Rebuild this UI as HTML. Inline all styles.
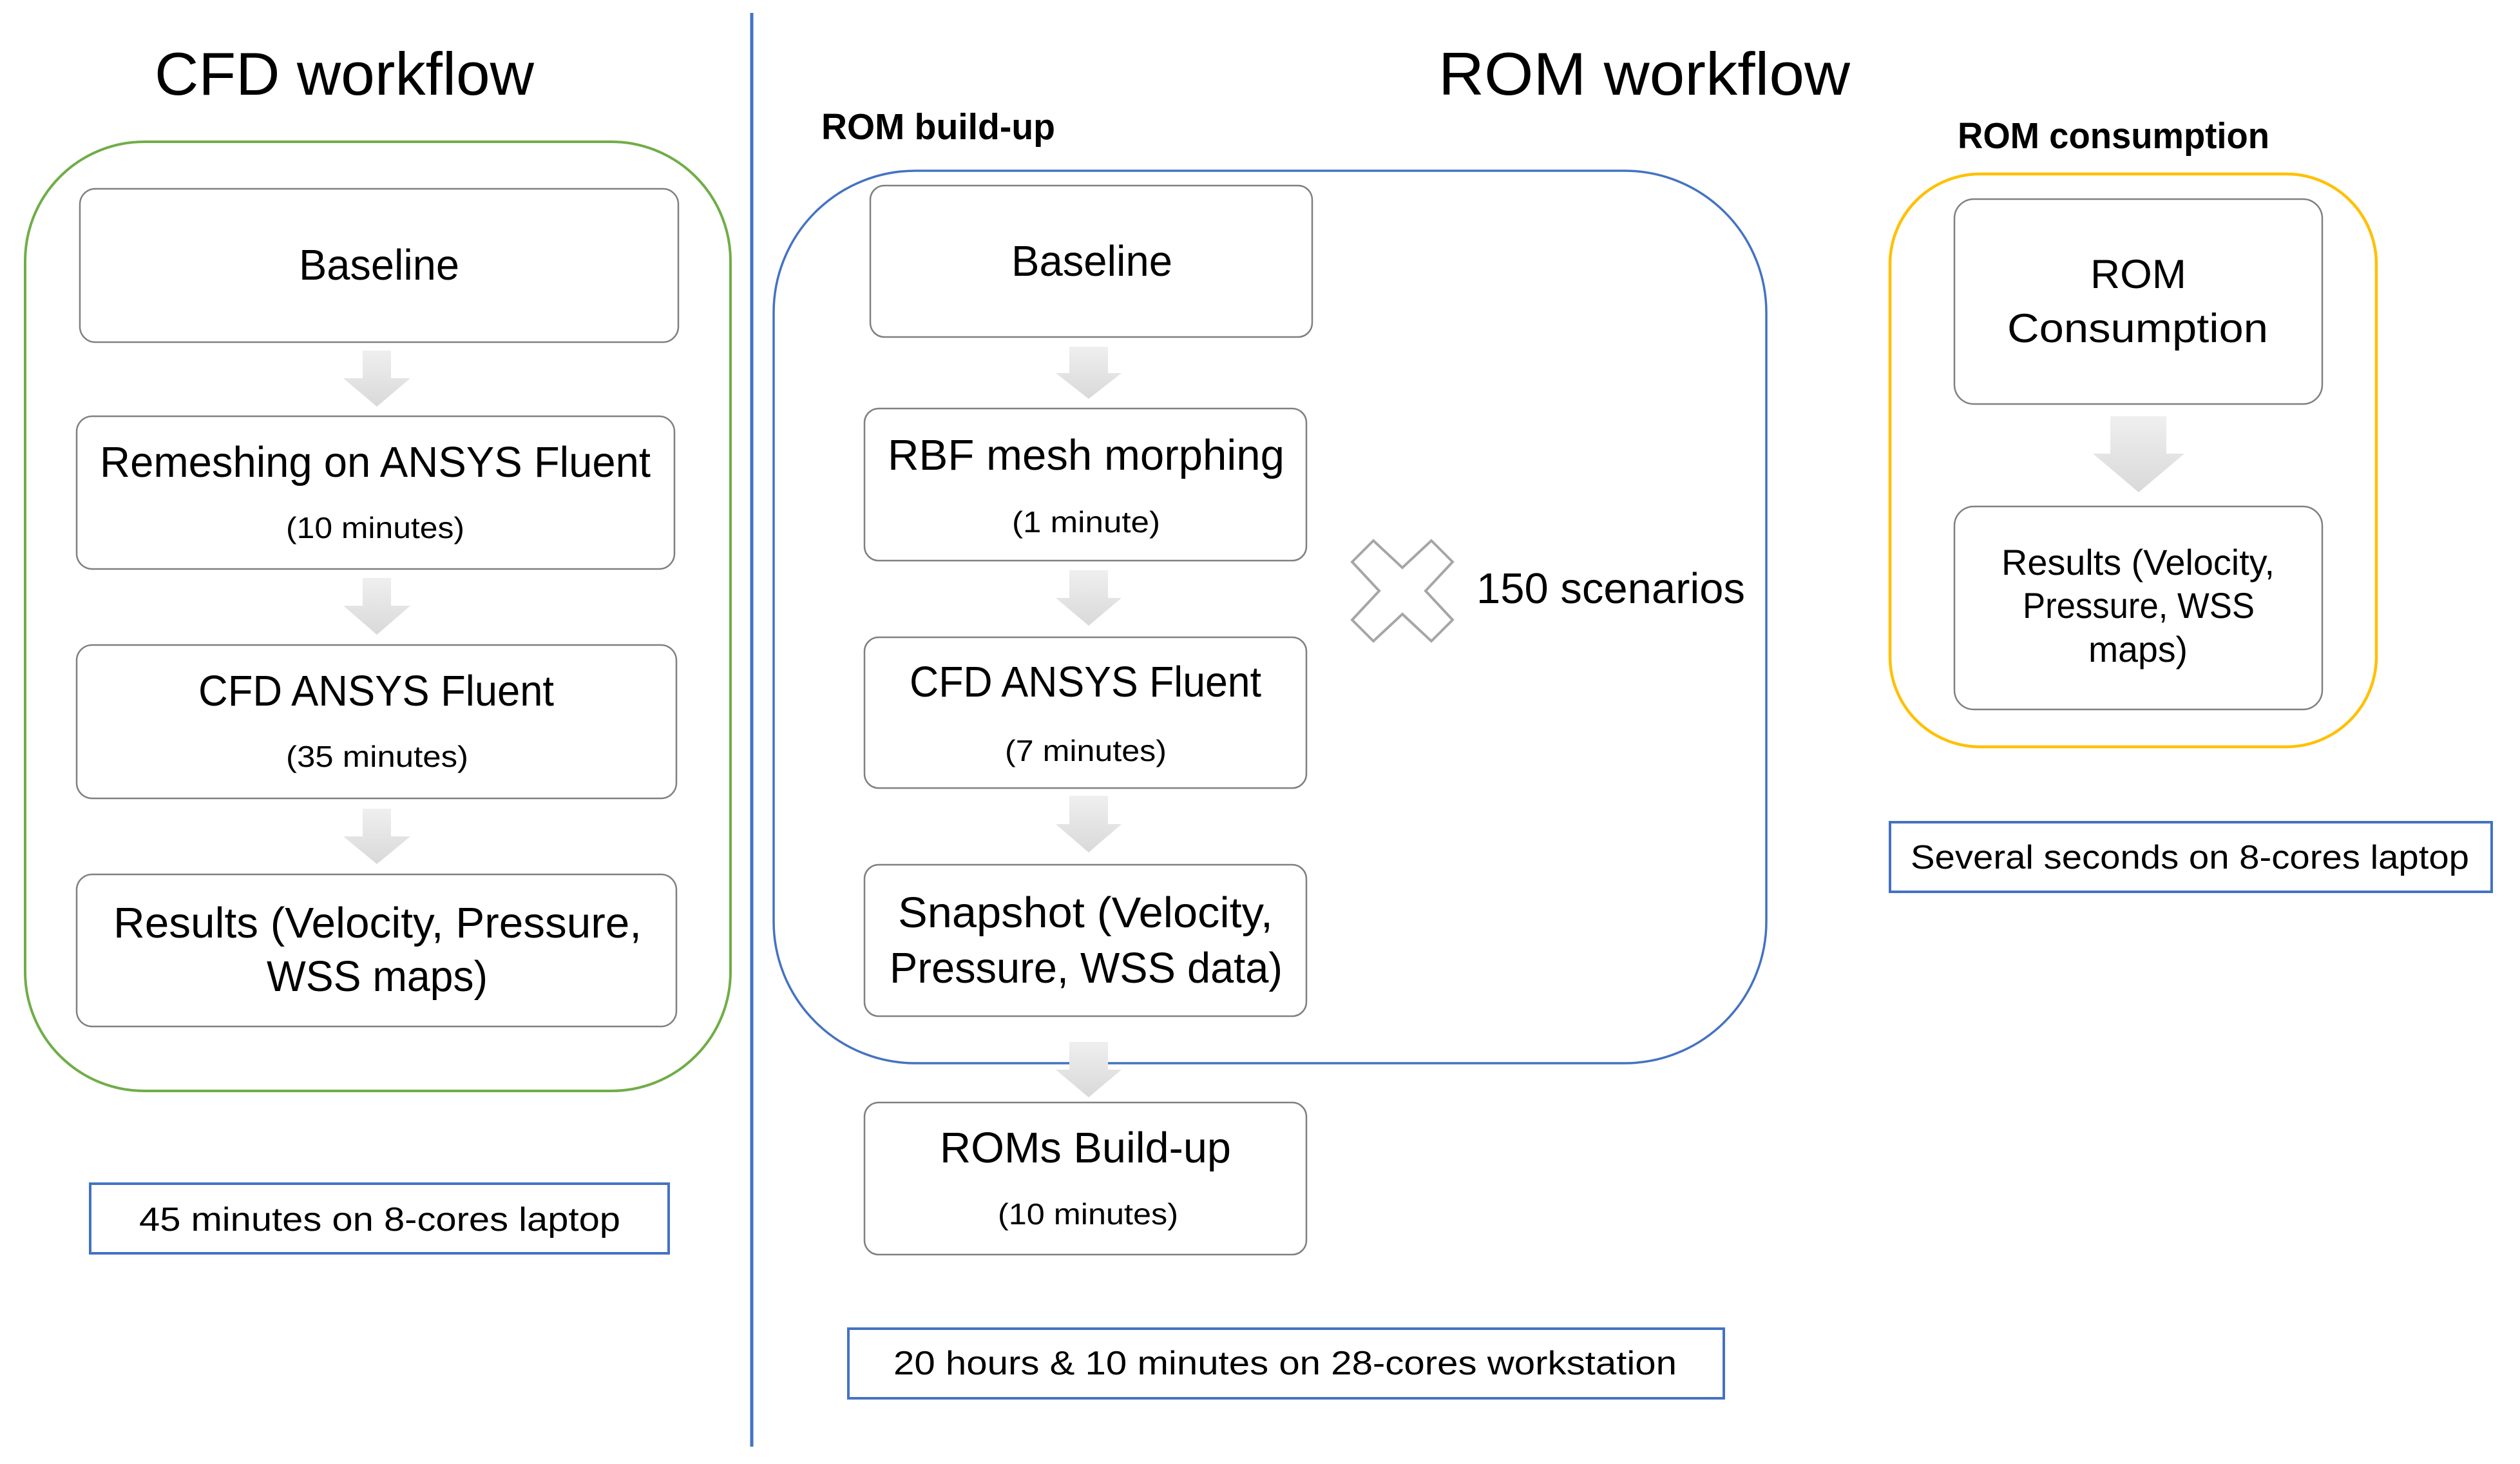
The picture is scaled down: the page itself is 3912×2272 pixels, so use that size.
<!DOCTYPE html>
<html><head><meta charset="utf-8"><style>
html,body{margin:0;padding:0;background:#fff;}
svg{display:block;}
text{font-family:"Liberation Sans",sans-serif;fill:#000;}
</style></head><body>
<svg width="3912" height="2272" viewBox="0 0 3912 2272" xmlns="http://www.w3.org/2000/svg">
<defs>
<linearGradient id="ag" x1="0" y1="0" x2="0" y2="1"><stop offset="0" stop-color="#efefef"/><stop offset="1" stop-color="#d9d9d9"/></linearGradient>
</defs>
<rect width="3912" height="2272" fill="#fff"/>
<line x1="1167" y1="20" x2="1167" y2="2245" stroke="#4472C4" stroke-width="5"/>
<text x="240" y="147" font-size="94" textLength="589" lengthAdjust="spacingAndGlyphs">CFD workflow</text>
<text x="2233" y="147" font-size="94" textLength="639" lengthAdjust="spacingAndGlyphs">ROM workflow</text>
<text x="1275" y="216" font-size="57" font-weight="bold" textLength="363" lengthAdjust="spacingAndGlyphs">ROM build-up</text>
<text x="3039" y="230" font-size="57" font-weight="bold" textLength="484" lengthAdjust="spacingAndGlyphs">ROM consumption</text>

<rect x="39" y="220" width="1095" height="1473" rx="185" ry="185" fill="none" stroke="#70AD47" stroke-width="4"/>
<g fill="#fff" stroke="#808080" stroke-width="2.5">
<rect x="124" y="293" width="929" height="238" rx="24"/>
<rect x="119" y="646" width="928" height="237" rx="24"/>
<rect x="119" y="1001" width="931" height="238" rx="24"/>
<rect x="119" y="1357" width="931" height="236" rx="24"/>
</g>
<g fill="url(#ag)">
<polygon points="563,544 607,544 607,587 637,587 585,631 533,587 563,587"/>
<polygon points="563,897 607,897 607,940 637,940 585,985 533,940 563,940"/>
<polygon points="563,1255 607,1255 607,1298 637,1298 585,1341 533,1298 563,1298"/>
</g>
<text x="464" y="434" font-size="67" textLength="249" lengthAdjust="spacingAndGlyphs">Baseline</text>
<text x="155" y="740" font-size="67" textLength="855" lengthAdjust="spacingAndGlyphs">Remeshing on ANSYS Fluent</text>
<text x="444" y="835" font-size="46" textLength="277" lengthAdjust="spacingAndGlyphs">(10 minutes)</text>
<text x="308" y="1095" font-size="67" textLength="552" lengthAdjust="spacingAndGlyphs">CFD ANSYS Fluent</text>
<text x="444" y="1190" font-size="46" textLength="283" lengthAdjust="spacingAndGlyphs">(35 minutes)</text>
<text x="176" y="1455" font-size="67" textLength="820" lengthAdjust="spacingAndGlyphs">Results (Velocity, Pressure,</text>
<text x="414" y="1538" font-size="67" textLength="343" lengthAdjust="spacingAndGlyphs">WSS maps)</text>
<rect x="140" y="1837" width="898" height="108" fill="none" stroke="#4472C4" stroke-width="4"/>
<text x="216" y="1910" font-size="52" textLength="747" lengthAdjust="spacingAndGlyphs">45 minutes on 8-cores laptop</text>

<rect x="1201" y="265" width="1541" height="1385" rx="220" ry="220" fill="none" stroke="#4472C4" stroke-width="3.5"/>
<g fill="#fff" stroke="#808080" stroke-width="2.5">
<rect x="1351" y="288" width="686" height="235" rx="22"/>
<rect x="1342" y="634" width="686" height="236" rx="22"/>
<rect x="1342" y="989" width="686" height="234" rx="22"/>
<rect x="1342" y="1342" width="686" height="235" rx="22"/>
<rect x="1342" y="1711" width="686" height="236" rx="22"/>
</g>
<g fill="url(#ag)">
<polygon points="1660,538 1720,538 1720,579 1741,579 1690,619 1639,579 1660,579"/>
<polygon points="1660,885 1720,885 1720,928 1741,928 1690,971 1639,928 1660,928"/>
<polygon points="1660,1235 1720,1235 1720,1279 1741,1279 1690,1323 1639,1279 1660,1279"/>
<polygon points="1660,1617 1720,1617 1720,1660 1741,1660 1690,1703 1639,1660 1660,1660"/>
</g>
<text x="1570" y="428" font-size="67" textLength="250" lengthAdjust="spacingAndGlyphs">Baseline</text>
<text x="1378" y="729" font-size="67" textLength="616" lengthAdjust="spacingAndGlyphs">RBF mesh morphing</text>
<text x="1571" y="826" font-size="46" textLength="230" lengthAdjust="spacingAndGlyphs">(1 minute)</text>
<text x="1412" y="1081" font-size="67" textLength="546" lengthAdjust="spacingAndGlyphs">CFD ANSYS Fluent</text>
<text x="1560" y="1181" font-size="46" textLength="251" lengthAdjust="spacingAndGlyphs">(7 minutes)</text>
<text x="1394" y="1439" font-size="67" textLength="582" lengthAdjust="spacingAndGlyphs">Snapshot (Velocity,</text>
<text x="1381" y="1525" font-size="67" textLength="610" lengthAdjust="spacingAndGlyphs">Pressure, WSS data)</text>
<text x="1459" y="1804" font-size="67" textLength="452" lengthAdjust="spacingAndGlyphs">ROMs Build-up</text>
<text x="1549" y="1900" font-size="46" textLength="280" lengthAdjust="spacingAndGlyphs">(10 minutes)</text>
<polygon transform="translate(2177,917)" points="-78,-45 -45,-78 0,-36 45,-78 78,-45 36,0 78,45 45,78 0,36 -45,78 -78,45 -36,0" fill="#fff" stroke="#a6a6a6" stroke-width="4" stroke-linejoin="miter"/>
<text x="2292" y="936" font-size="67" textLength="417" lengthAdjust="spacingAndGlyphs">150 scenarios</text>
<rect x="1317" y="2062" width="1359" height="108" fill="none" stroke="#4472C4" stroke-width="4"/>
<text x="1387" y="2133" font-size="52" textLength="1216" lengthAdjust="spacingAndGlyphs">20 hours &amp; 10 minutes on 28-cores workstation</text>

<rect x="2934" y="270" width="755" height="889" rx="140" ry="140" fill="none" stroke="#FFC000" stroke-width="4.5"/>
<g fill="#fff" stroke="#808080" stroke-width="2.5">
<rect x="3034" y="309" width="571" height="318" rx="30"/>
<rect x="3034" y="786" width="571" height="315" rx="30"/>
</g>
<polygon fill="url(#ag)" points="3276,646 3363,646 3363,704 3391,704 3320,764 3249,704 3276,704"/>
<text x="3245" y="447" font-size="63" textLength="149" lengthAdjust="spacingAndGlyphs">ROM</text>
<text x="3116" y="531" font-size="63" textLength="405" lengthAdjust="spacingAndGlyphs">Consumption</text>
<text x="3107" y="892" font-size="56" textLength="424" lengthAdjust="spacingAndGlyphs">Results (Velocity,</text>
<text x="3140" y="959" font-size="56" textLength="360" lengthAdjust="spacingAndGlyphs">Pressure, WSS</text>
<text x="3242" y="1027" font-size="56" textLength="154" lengthAdjust="spacingAndGlyphs">maps)</text>
<rect x="2934" y="1276" width="934" height="108" fill="none" stroke="#4472C4" stroke-width="4"/>
<text x="2966" y="1348" font-size="52" textLength="867" lengthAdjust="spacingAndGlyphs">Several seconds on 8-cores laptop</text>
</svg>
</body></html>
